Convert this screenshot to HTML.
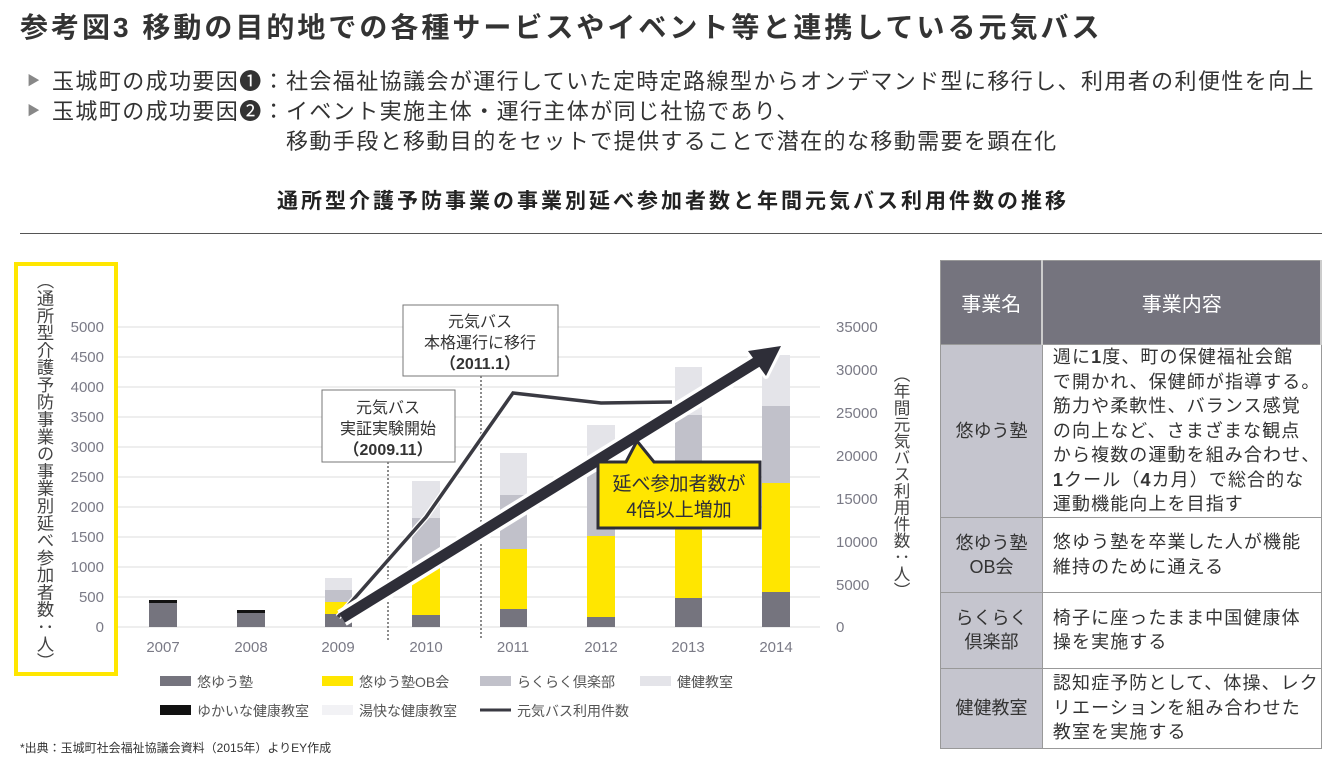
<!DOCTYPE html>
<html><head><meta charset="utf-8"><style>
body{margin:0;width:1334px;height:766px;background:#fff;position:relative;overflow:hidden;font-family:"Liberation Sans","Noto Sans CJK JP",sans-serif;color:#333;}
.a{position:absolute;white-space:nowrap}
.t{left:20px;top:6px;font-size:28px;letter-spacing:3px;font-weight:bold;color:#333}
.b{font-size:22px;letter-spacing:1.4px;color:#333}
.b span{color:#888;font-size:13px;position:absolute;left:-25px;top:6px}
.v{position:absolute;writing-mode:vertical-rl;white-space:nowrap;color:#444}
table{position:absolute;left:940px;top:260px;width:382px;border-collapse:collapse;font-size:18px;border:1px solid #999}
td{border:1px solid #999;padding:0}
th{background:#75747e;color:#fff;font-weight:normal;font-size:20px;height:81px;border-right:2px solid #ccc}
td.n{background:#c5c5ce;text-align:center;width:101px;color:#333;line-height:24px}
td.c{padding:0 0 0 10px;line-height:24.5px;color:#333;letter-spacing:1.1px;white-space:nowrap}
</style></head><body>
<div class="a t">参考図3 移動の目的地での各種サービスやイベント等と連携している元気バス</div>
<div class="a b" style="left:52px;top:64px"><span>▶</span>玉城町の成功要因❶：社会福祉協議会が運行していた定時定路線型からオンデマンド型に移行し、利用者の利便性を向上</div>
<div class="a b" style="left:52px;top:94px"><span>▶</span>玉城町の成功要因❷：イベント実施主体・運行主体が同じ社協であり、</div>
<div class="a b" style="left:286px;top:124px">移動手段と移動目的をセットで提供することで潜在的な移動需要を顕在化</div>
<div class="a" style="left:0;width:1346px;text-align:center;top:185px;font-size:21px;letter-spacing:3px;font-weight:bold;color:#222">通所型介護予防事業の事業別延べ参加者数と年間元気バス利用件数の推移</div>
<div class="a" style="left:20px;top:233px;width:1302px;height:1px;background:#555"></div>
<div class="v" style="left:33px;top:272px;font-size:17.3px;line-height:21px">（通所型介護予防事業の事業別延べ参加者数：人）</div>
<div class="v" style="left:889px;top:366px;font-size:16.6px;line-height:22px">（年間元気バス利用件数：人）</div>
<svg class="a" style="left:0;top:0" width="930" height="766" xmlns="http://www.w3.org/2000/svg" font-family="Liberation Sans, Noto Sans CJK JP, sans-serif">
<rect x="16" y="264" width="100" height="410" fill="none" stroke="#ffe600" stroke-width="4"/>
<g stroke="#dcdcdc" stroke-width="1">
<line x1="118" x2="820" y1="627" y2="627"/><line x1="118" x2="820" y1="597" y2="597"/><line x1="118" x2="820" y1="567" y2="567"/><line x1="118" x2="820" y1="537" y2="537"/><line x1="118" x2="820" y1="507" y2="507"/><line x1="118" x2="820" y1="477" y2="477"/><line x1="118" x2="820" y1="447" y2="447"/><line x1="118" x2="820" y1="417" y2="417"/><line x1="118" x2="820" y1="387" y2="387"/><line x1="118" x2="820" y1="357" y2="357"/><line x1="118" x2="820" y1="327" y2="327"/>
</g>
<g font-size="15" fill="#7a7a86" text-anchor="end">
<text x="104" y="632">0</text><text x="104" y="602">500</text><text x="104" y="572">1000</text><text x="104" y="542">1500</text><text x="104" y="512">2000</text><text x="104" y="482">2500</text><text x="104" y="452">3000</text><text x="104" y="422">3500</text><text x="104" y="392">4000</text><text x="104" y="362">4500</text><text x="104" y="332">5000</text>
</g>
<g font-size="15" fill="#7a7a86">
<text x="836" y="632">0</text><text x="836" y="590">5000</text><text x="836" y="547">10000</text><text x="836" y="504">15000</text><text x="836" y="461">20000</text><text x="836" y="418">25000</text><text x="836" y="375">30000</text><text x="836" y="332">35000</text>
</g>
<g font-size="15" fill="#7a7a86" text-anchor="middle">
<text x="163" y="652">2007</text><text x="251" y="652">2008</text><text x="338" y="652">2009</text><text x="426" y="652">2010</text><text x="513" y="652">2011</text><text x="601" y="652">2012</text><text x="688" y="652">2013</text><text x="776" y="652">2014</text>
</g>
<g>
<rect x="149" y="603" width="28" height="24" fill="#75747e"/><rect x="149" y="600" width="28" height="3" fill="#111"/>
<rect x="237" y="613" width="28" height="14" fill="#75747e"/><rect x="237" y="610" width="28" height="3" fill="#111"/>
<rect x="325" y="578" width="27" height="12" fill="#e4e4e9"/><rect x="325" y="590" width="27" height="12" fill="#c1c1ca"/><rect x="325" y="602" width="27" height="12" fill="#ffe600"/><rect x="325" y="614" width="27" height="13" fill="#75747e"/>
<rect x="412" y="481" width="28" height="37" fill="#e4e4e9"/><rect x="412" y="518" width="28" height="46" fill="#c1c1ca"/><rect x="412" y="564" width="28" height="51" fill="#ffe600"/><rect x="412" y="615" width="28" height="12" fill="#75747e"/>
<rect x="500" y="453" width="27" height="42" fill="#e4e4e9"/><rect x="500" y="495" width="27" height="54" fill="#c1c1ca"/><rect x="500" y="549" width="27" height="60" fill="#ffe600"/><rect x="500" y="609" width="27" height="18" fill="#75747e"/>
<rect x="587" y="425" width="28" height="45" fill="#e4e4e9"/><rect x="587" y="470" width="28" height="66" fill="#c1c1ca"/><rect x="587" y="536" width="28" height="81" fill="#ffe600"/><rect x="587" y="617" width="28" height="10" fill="#75747e"/>
<rect x="675" y="367" width="27" height="48" fill="#e4e4e9"/><rect x="675" y="415" width="27" height="105" fill="#c1c1ca"/><rect x="675" y="520" width="27" height="78" fill="#ffe600"/><rect x="675" y="598" width="27" height="29" fill="#75747e"/>
<rect x="762" y="355" width="28" height="51" fill="#e4e4e9"/><rect x="762" y="406" width="28" height="77" fill="#c1c1ca"/><rect x="762" y="483" width="28" height="109" fill="#ffe600"/><rect x="762" y="592" width="28" height="35" fill="#75747e"/>
</g>
<line x1="388" y1="462" x2="388" y2="640" stroke="#666" stroke-width="1.5" stroke-dasharray="2,2"/>
<line x1="481" y1="376" x2="481" y2="640" stroke="#666" stroke-width="1.5" stroke-dasharray="2,2"/>
<polyline points="338,617 426,517 513,393 601,403 672,402" fill="none" stroke="#fff" stroke-width="6"/>
<polyline points="338,617 426,517 513,393 601,403 672,402" fill="none" stroke="#3a3a42" stroke-width="3.5"/>
<rect x="322" y="390" width="133" height="72" fill="#fff" stroke="#777"/>
<g font-size="16" fill="#333" text-anchor="middle"><text x="388" y="413">元気バス</text><text x="388" y="434">実証実験開始</text><text x="388" y="455" font-weight="bold">（2009.11）</text></g>
<rect x="403" y="305" width="155" height="71" fill="#fff" stroke="#777"/>
<g font-size="16" fill="#333" text-anchor="middle"><text x="480" y="327">元気バス</text><text x="480" y="348">本格運行に移行</text><text x="480" y="369" font-weight="bold">（2011.1）</text></g>
<g>
<line x1="342" y1="618" x2="760" y2="360" stroke="#fff" stroke-width="18"/>
<polygon points="781,346 748,351 766,376" fill="#fff" stroke="#fff" stroke-width="6" stroke-linejoin="round"/>
<line x1="342" y1="618" x2="760" y2="360" stroke="#2e2e38" stroke-width="11"/>
<polygon points="781,346 748,351 766,376" fill="#2e2e38"/>
</g>
<polygon points="598,462 626,462 637,441 654,462 760,462 760,528 598,528" fill="#ffe600" stroke="#2e2e38" stroke-width="3"/>
<g font-size="19" fill="#2e2e38" text-anchor="middle"><text x="679" y="490">延べ参加者数が</text><text x="679" y="516">4倍以上増加</text></g>
<g font-size="14" fill="#555">
<rect x="160" y="676" width="31" height="10" fill="#75747e"/><text x="197" y="687">悠ゆう塾</text>
<rect x="322" y="676" width="31" height="10" fill="#ffe600"/><text x="359" y="687">悠ゆう塾OB会</text>
<rect x="480" y="676" width="31" height="10" fill="#c1c1ca"/><text x="517" y="687">らくらく倶楽部</text>
<rect x="640" y="676" width="31" height="10" fill="#e4e4e9"/><text x="677" y="687">健健教室</text>
<rect x="160" y="705" width="31" height="10" fill="#111"/><text x="197" y="716">ゆかいな健康教室</text>
<rect x="322" y="705" width="31" height="10" fill="#f2f2f5"/><text x="359" y="716">湯快な健康教室</text>
<line x1="480" y1="710" x2="511" y2="710" stroke="#3a3a42" stroke-width="3"/><text x="517" y="716">元気バス利用件数</text>
</g>
<text x="20" y="752" font-size="12" fill="#333">*出典：玉城町社会福祉協議会資料（2015年）よりEY作成</text>
</svg>
<table>
<tr><th style="width:101px">事業名</th><th>事業内容</th></tr>
<tr style="height:170px"><td class="n">悠ゆう塾</td><td class="c">週に<b>1</b>度、町の保健福祉会館<br>で開かれ、保健師が指導する。<br>筋力や柔軟性、バランス感覚<br>の向上など、さまざまな観点<br>から複数の運動を組み合わせ、<br><b>1</b>クール（<b>4</b>カ月）で総合的な<br>運動機能向上を目指す</td></tr>
<tr style="height:75px"><td class="n">悠ゆう塾<br>OB会</td><td class="c">悠ゆう塾を卒業した人が機能<br>維持のために通える</td></tr>
<tr style="height:76px"><td class="n">らくらく<br>倶楽部</td><td class="c">椅子に座ったまま中国健康体<br>操を実施する</td></tr>
<tr style="height:80px"><td class="n">健健教室</td><td class="c">認知症予防として、体操、レク<br>リエーションを組み合わせた<br>教室を実施する</td></tr>
</table>
</body></html>
